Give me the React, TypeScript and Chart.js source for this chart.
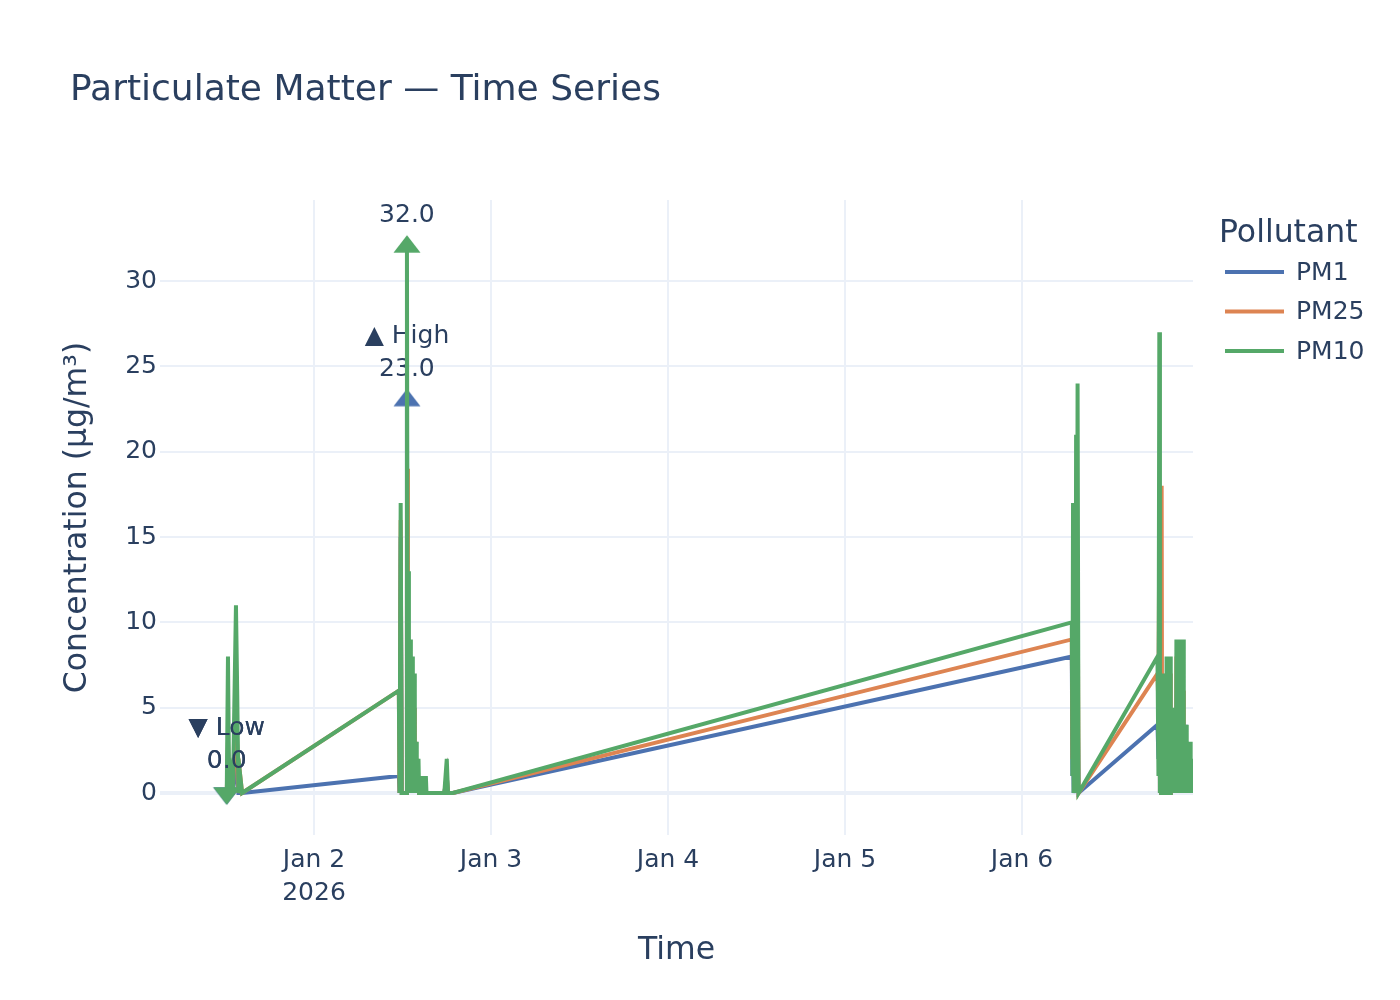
import { useEffect, useRef } from 'react';
import { Chart, registerables } from 'chart.js';

Chart.register(...registerables);

const FONT = '"DejaVu Sans", sans-serif';
const TEXT_COLOR = '#2a3f5f';
const GRID_COLOR = '#ebf0f8';

const chartTitle = 'Particulate Matter — Time Series';
const xAxisTitle = 'Time';
const yAxisTitle = 'Concentration (µg/m³)';
const legendTitle = 'Pollutant';

const seriesNames = ['PM1', 'PM25', 'PM10'];
const seriesColors = ['#4c72b0', '#dd8452', '#55a868'];
const annotatedSeries = ['PM1', 'PM10'];

// Sample times (UTC)
const timestamps = [
  // Jan 1
  '2026-01-01T12:10', '2026-01-01T12:20', '2026-01-01T12:30', '2026-01-01T12:45', '2026-01-01T13:00',
  '2026-01-01T13:25', '2026-01-01T13:35', '2026-01-01T13:45', '2026-01-01T14:00', '2026-01-01T14:15',
  // Jan 2
  '2026-01-02T11:30', '2026-01-02T11:36', '2026-01-02T11:45', '2026-01-02T11:54', '2026-01-02T12:30', '2026-01-02T12:36',
  '2026-01-02T12:40', '2026-01-02T12:44', '2026-01-02T12:48', '2026-01-02T12:52', '2026-01-02T12:56',
  '2026-01-02T13:00', '2026-01-02T13:04', '2026-01-02T13:08', '2026-01-02T13:12', '2026-01-02T13:16',
  '2026-01-02T13:20', '2026-01-02T13:24', '2026-01-02T13:28', '2026-01-02T13:32', '2026-01-02T13:36',
  '2026-01-02T13:40', '2026-01-02T13:44', '2026-01-02T13:48', '2026-01-02T13:52', '2026-01-02T13:56',
  '2026-01-02T14:00', '2026-01-02T14:05', '2026-01-02T14:10', '2026-01-02T14:15', '2026-01-02T14:20',
  '2026-01-02T14:25', '2026-01-02T14:30', '2026-01-02T14:35', '2026-01-02T14:40', '2026-01-02T14:45',
  '2026-01-02T14:50', '2026-01-02T14:55', '2026-01-02T15:00', '2026-01-02T15:05', '2026-01-02T15:10', '2026-01-02T15:15',
  '2026-01-02T16:30', '2026-01-02T17:40', '2026-01-02T18:00', '2026-01-02T18:10', '2026-01-02T18:50',
  // Jan 6 morning
  '2026-01-06T06:45', '2026-01-06T06:50', '2026-01-06T06:55', '2026-01-06T07:00', '2026-01-06T07:08',
  '2026-01-06T07:15', '2026-01-06T07:20', '2026-01-06T07:26', '2026-01-06T07:32', '2026-01-06T07:40',
  // Jan 6 evening
  '2026-01-06T18:22', '2026-01-06T18:30', '2026-01-06T18:37', '2026-01-06T18:42', '2026-01-06T18:47',
  '2026-01-06T18:52', '2026-01-06T18:56', '2026-01-06T19:00', '2026-01-06T19:04', '2026-01-06T19:08',
  '2026-01-06T19:12', '2026-01-06T19:16', '2026-01-06T19:20', '2026-01-06T19:24', '2026-01-06T19:28',
  '2026-01-06T19:32', '2026-01-06T19:36', '2026-01-06T19:40', '2026-01-06T19:44', '2026-01-06T19:48',
  '2026-01-06T19:52', '2026-01-06T19:56', '2026-01-06T20:00', '2026-01-06T20:04', '2026-01-06T20:08',
  '2026-01-06T20:12', '2026-01-06T20:16', '2026-01-06T20:20', '2026-01-06T20:24', '2026-01-06T20:28',
  '2026-01-06T20:32', '2026-01-06T20:36', '2026-01-06T20:40', '2026-01-06T20:44', '2026-01-06T20:48',
  '2026-01-06T20:52', '2026-01-06T20:56', '2026-01-06T21:00', '2026-01-06T21:04', '2026-01-06T21:08',
  '2026-01-06T21:12', '2026-01-06T21:16', '2026-01-06T21:20', '2026-01-06T21:24', '2026-01-06T21:28',
  '2026-01-06T21:32', '2026-01-06T21:36', '2026-01-06T21:40', '2026-01-06T21:44', '2026-01-06T21:48',
  '2026-01-06T21:52', '2026-01-06T21:56', '2026-01-06T22:00', '2026-01-06T22:04', '2026-01-06T22:08',
  '2026-01-06T22:12', '2026-01-06T22:16', '2026-01-06T22:20', '2026-01-06T22:24', '2026-01-06T22:28',
  '2026-01-06T22:32', '2026-01-06T22:36', '2026-01-06T22:40', '2026-01-06T22:44', '2026-01-06T22:48',
  '2026-01-06T22:52', '2026-01-06T22:56', '2026-01-06T23:00', '2026-01-06T23:04', '2026-01-06T23:08',
];

const pm1 = [
  0, 1, 0, 0, 0, 2, 1, 0, 0, 0,
  1, 0, 15, 0, 0, 23,
  9, 0, 4, 0, 3, 0, 4, 0, 2, 0,
  3, 0, 2, 0, 2, 0, 1, 0, 2, 0,
  1, 0, 1, 0, 0, 0, 0, 0, 0, 0,
  0, 0, 0, 0, 0, 0,
  0, 0, 1, 0, 0,
  8, 1, 3, 0, 1, 0, 4, 0, 6, 0,
  4, 2, 14, 0, 2, 0, 2, 0, 3, 0,
  2, 0, 3, 0, 2, 0, 4, 0, 3, 0,
  4, 0, 3, 0, 4, 0, 2, 0, 2, 0,
  2, 0, 2, 0, 2, 0, 4, 0, 3, 0,
  4, 0, 3, 1, 4, 0, 4, 0, 3, 0,
  4, 0, 4, 0, 4, 0, 3, 0, 1, 0,
  1, 0, 1, 0, 1, 0, 1, 0, 1, 0,
];

const pm25 = [
  0, 3, 0, 1, 0, 5, 3, 0, 1, 0,
  6, 0, 16, 0, 0, 12,
  19, 0, 9, 0, 8, 0, 7, 0, 7, 0,
  6, 0, 5, 0, 5, 0, 3, 0, 2, 0,
  2, 0, 1, 0, 1, 0, 0, 0, 1, 0,
  0, 0, 0, 0, 0, 0,
  0, 0, 1, 0, 0,
  9, 2, 10, 1, 4, 0, 12, 0, 14, 0,
  7, 5, 16, 0, 5, 0, 18, 0, 6, 0,
  5, 0, 6, 1, 5, 0, 7, 0, 6, 0,
  7, 0, 6, 0, 7, 0, 4, 0, 4, 0,
  4, 0, 4, 0, 4, 0, 8, 0, 7, 1,
  8, 0, 7, 2, 8, 0, 8, 0, 7, 0,
  6, 0, 3, 0, 3, 0, 2, 0, 2, 0,
  2, 0, 2, 0, 2, 0, 1, 0, 1, 1,
];

const pm10 = [
  0, 8, 0, 1, 0, 11, 6, 0, 1, 0,
  6, 0, 17, 0, 0, 32,
  13, 0, 13, 0, 9, 0, 9, 0, 8, 0,
  8, 0, 7, 0, 7, 0, 3, 0, 3, 0,
  2, 0, 2, 0, 1, 0, 1, 0, 1, 0,
  1, 0, 1, 0, 1, 0,
  0, 0, 2, 0, 0,
  10, 1, 17, 0, 2, 0, 21, 0, 24, 0,
  8, 1, 27, 0, 7, 0, 7, 0, 7, 0,
  7, 0, 7, 0, 7, 0, 8, 0, 8, 0,
  8, 0, 8, 0, 8, 0, 5, 0, 5, 0,
  5, 0, 5, 0, 5, 0, 9, 0, 9, 0,
  9, 0, 9, 1, 9, 0, 9, 0, 9, 0,
  9, 0, 4, 0, 4, 0, 4, 0, 3, 0,
  3, 0, 3, 0, 3, 0, 2, 0, 2, 2,
];

const xTickDates = ['2026-01-02T00:00', '2026-01-03T00:00', '2026-01-04T00:00', '2026-01-05T00:00', '2026-01-06T00:00'];
const yTickValues = [0, 5, 10, 15, 20, 25, 30];
const xRange = ['2026-01-01T03:07', '2026-01-06T23:11'];
const yRange = [-2.46, 34.75];

const MONTHS = ['Jan', 'Feb', 'Mar', 'Apr', 'May', 'Jun', 'Jul', 'Aug', 'Sep', 'Oct', 'Nov', 'Dec'];

const toMs = (s: string) => Date.parse(s + ':00Z');

// Plotly-style flat triangle marker baked into a small canvas
function makeTriangle(color: string, down: boolean): HTMLCanvasElement {
  const c = document.createElement('canvas');
  c.width = 30;
  c.height = 30;
  const ctx = c.getContext('2d')!;
  const r = 11.7;
  const cx = 15;
  const cy = 15;
  const s = down ? -1 : 1;
  ctx.beginPath();
  ctx.moveTo(cx - 1.155 * r, cy + s * 0.5 * r);
  ctx.lineTo(cx + 1.155 * r, cy + s * 0.5 * r);
  ctx.lineTo(cx, cy - s * r);
  ctx.closePath();
  ctx.fillStyle = color;
  ctx.fill();
  return c;
}

const markerLabels = {
  id: 'markerLabels',
  afterDatasetDraw(chart: any, args: any) {
    const ds = chart.data.datasets[args.index];
    if (!ds.labelLines) return;
    const { ctx, chartArea } = chart;
    ctx.save();
    ctx.beginPath();
    ctx.rect(chartArea.left, chartArea.top, chartArea.right - chartArea.left, chartArea.bottom - chartArea.top);
    ctx.clip();
    ctx.font = `25px ${FONT}`;
    ctx.fillStyle = TEXT_COLOR;
    ctx.textAlign = 'center';
    ctx.textBaseline = 'alphabetic';
    args.meta.data.forEach((pt: any, i: number) => {
      const lines: string[] = ds.labelLines[i];
      lines.forEach((line, j) => {
        const cy = pt.y - 33 * (lines.length - j);
        ctx.fillText(line, pt.x, cy + 8);
      });
    });
    ctx.restore();
  },
};

const decorations = {
  id: 'decorations',
  afterDraw(chart: any) {
    const { ctx, chartArea } = chart;
    ctx.save();
    ctx.fillStyle = TEXT_COLOR;

    // title
    ctx.font = `36px ${FONT}`;
    ctx.textAlign = 'left';
    ctx.textBaseline = 'alphabetic';
    ctx.fillText(chartTitle, 70, 100);

    // x axis title
    ctx.font = `31.5px ${FONT}`;
    ctx.textAlign = 'center';
    ctx.fillText(xAxisTitle, (chartArea.left + chartArea.right) / 2, 959);

    // y axis title
    ctx.save();
    ctx.translate(86, (chartArea.top + chartArea.bottom) / 2);
    ctx.rotate(-Math.PI / 2);
    ctx.fillText(yAxisTitle, 0, 0);
    ctx.restore();

    // legend
    ctx.textAlign = 'left';
    ctx.fillText(legendTitle, 1219, 242);
    ctx.font = `25px ${FONT}`;
    ctx.textBaseline = 'middle';
    seriesNames.forEach((name, i) => {
      const y = 272 + i * 39.5;
      ctx.strokeStyle = seriesColors[i];
      ctx.lineWidth = 4;
      ctx.beginPath();
      ctx.moveTo(1225, y);
      ctx.lineTo(1284, y);
      ctx.stroke();
      ctx.fillText(name, 1296, y + 1);
    });
    ctx.restore();
  },
};

export default function App() {
  const canvasRef = useRef<HTMLCanvasElement>(null);

  useEffect(() => {
    const canvas = canvasRef.current;
    if (!canvas) return;
    const xs = timestamps.map(toMs);
    const seriesValues = [pm1, pm25, pm10];

    const datasets: any[] = [];
    seriesNames.forEach((name, i) => {
      const vals = seriesValues[i];
      datasets.push({
        type: 'line',
        label: name,
        data: xs.map((x, k) => ({ x, y: vals[k] })),
        borderColor: seriesColors[i],
        backgroundColor: seriesColors[i],
        borderWidth: 4,
        pointRadius: 0,
        pointHoverRadius: 0,
        tension: 0,
        fill: false,
        order: 10 - i * 3,
      });
      if (annotatedSeries.includes(name)) {
        const maxIdx = vals.indexOf(Math.max(...vals));
        const minIdx = vals.indexOf(Math.min(...vals));
        datasets.push({
          type: 'line',
          label: name + ' extremes',
          data: [
            { x: xs[maxIdx], y: vals[maxIdx] },
            { x: xs[minIdx], y: vals[minIdx] },
          ],
          showLine: false,
          pointStyle: [makeTriangle(seriesColors[i], false), makeTriangle(seriesColors[i], true)],
          pointRadius: 12,
          pointHoverRadius: 12,
          borderWidth: 0,
          order: 9 - i * 3,
          labelLines: [
            ['▲ High', vals[maxIdx].toFixed(1)],
            ['▼ Low', vals[minIdx].toFixed(1)],
          ],
        });
      }
    });

    const xTicks = xTickDates.map(toMs);

    const chart = new Chart(canvas, {
      type: 'line',
      data: { datasets },
      options: {
        responsive: false,
        animation: false,
        events: [],
        layout: { padding: { left: 0, top: 200, right: 207, bottom: 0 } },
        plugins: {
          legend: { display: false },
          title: { display: false },
          tooltip: { enabled: false },
        },
        scales: {
          x: {
            type: 'linear',
            min: toMs(xRange[0]),
            max: toMs(xRange[1]),
            afterBuildTicks: (scale: any) => {
              scale.ticks = xTicks.map((value) => ({ value }));
            },
            afterFit: (scale: any) => {
              scale.height = 165;
            },
            grid: { color: GRID_COLOR, lineWidth: 2, drawTicks: false },
            border: { display: false },
            ticks: {
              autoSkip: false,
              maxRotation: 0,
              padding: 9,
              color: TEXT_COLOR,
              font: { family: FONT, size: 25, lineHeight: 1.32 },
              callback: (value: any, index: number) => {
                const d = new Date(Number(value));
                const label = `${MONTHS[d.getUTCMonth()]} ${d.getUTCDate()}`;
                return index === 0 ? [label, String(d.getUTCFullYear())] : label;
              },
            },
          },
          y: {
            type: 'linear',
            min: yRange[0],
            max: yRange[1],
            afterBuildTicks: (scale: any) => {
              scale.ticks = yTickValues.map((value) => ({ value }));
            },
            afterFit: (scale: any) => {
              scale.width = 160;
            },
            grid: {
              color: GRID_COLOR,
              lineWidth: (c: any) => (c.tick && c.tick.value === 0 ? 4 : 2),
              drawTicks: false,
            },
            border: { display: false },
            ticks: {
              padding: 3,
              color: TEXT_COLOR,
              font: { family: FONT, size: 25 },
              callback: (value: any) => String(value),
            },
          },
        },
      } as any,
      plugins: [markerLabels, decorations],
    });

    return () => chart.destroy();
  }, []);

  return (
    <div style={{ position: 'fixed', left: 0, top: 0, width: 1400, height: 1000, background: '#fff' }}>
      <canvas ref={canvasRef} width={1400} height={1000} style={{ width: 1400, height: 1000 }} />
    </div>
  );
}
